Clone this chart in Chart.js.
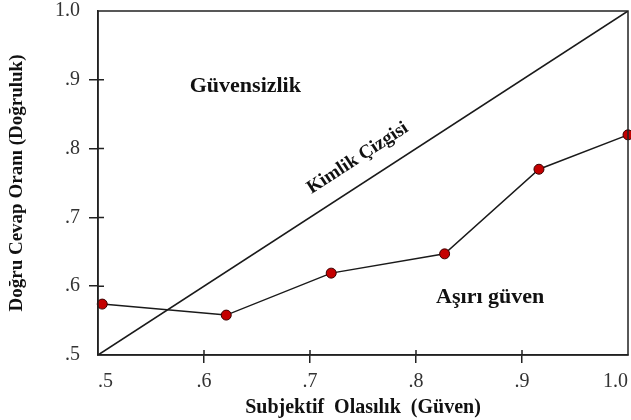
<!DOCTYPE html>
<html>
<head>
<meta charset="utf-8">
<script src="https://cdn.jsdelivr.net/npm/chart.js@4/dist/chart.umd.min.js"></script>
<style>
  html, body { margin: 0; padding: 0; background: #fff; }
  #wrap { width: 631px; height: 420px; }
</style>
</head>
<body>
<div id="wrap"><canvas id="myChart"></canvas></div>
<script>
// subjective probability (confidence) vs proportion correct
const confidence = [0.504, 0.621, 0.72, 0.827, 0.916, 1.0];
const accuracy = [0.574, 0.558, 0.619, 0.647, 0.770, 0.820];
const identityX = [0.5, 1.0];
const identityY = [0.5, 1.0];
const tickValues = [0.5, 0.6, 0.7, 0.8, 0.9, 1.0];
const tickLabels = ['.5', '.6', '.7', '.8', '.9', '1.0'];

const serif = "'Liberation Serif', 'DejaVu Serif', serif";

function isEnd(v) { return v === 0.5 || v === 1; }

// frame around the plot, inner tick stubs, text labels in data coords
const framePlugin = {
    id: 'frame',
    afterDatasetsDraw(chart) {
        const ctx = chart.ctx;
        const a = chart.chartArea;
        const xs = chart.scales.x, ys = chart.scales.y;
        ctx.save();
        ctx.strokeStyle = '#222';
        ctx.lineWidth = 1.5;
        ctx.strokeRect(a.left, a.top, a.right - a.left, a.bottom - a.top);

        ctx.beginPath();
        tickValues.filter(v => !isEnd(v)).forEach(v => {
            const px = xs.getPixelForValue(v);
            ctx.moveTo(px, a.bottom);
            ctx.lineTo(px, a.bottom - 5);
            const py = ys.getPixelForValue(v);
            ctx.moveTo(a.left, py);
            ctx.lineTo(a.left + 6, py);
        });
        ctx.stroke();

        ctx.fillStyle = '#111';
        ctx.textAlign = 'center';
        ctx.textBaseline = 'middle';
        ctx.font = 'bold 22px ' + serif;
        ctx.fillText('Güvensizlik', xs.getPixelForValue(0.639), ys.getPixelForValue(0.891));
        ctx.fillText('Aşırı güven', xs.getPixelForValue(0.870), ys.getPixelForValue(0.584));

        // label along identity line
        const x0 = xs.getPixelForValue(identityX[0]), y0 = ys.getPixelForValue(identityY[0]);
        const x1 = xs.getPixelForValue(identityX[1]), y1 = ys.getPixelForValue(identityY[1]);
        const ang = Math.atan2(y1 - y0, x1 - x0);
        ctx.translate(xs.getPixelForValue(0.745), ys.getPixelForValue(0.786));
        ctx.rotate(ang);
        ctx.font = 'bold 19px ' + serif;
        ctx.fillText('Kimlik Çizgisi', 0, 0);
        ctx.restore();
    }
};

new Chart(document.getElementById('myChart'), {
    type: 'scatter',
    data: {
        datasets: [{
            label: 'Kimlik Çizgisi',
            data: identityX.map((x, i) => ({ x: x, y: identityY[i] })),
            showLine: true,
            borderColor: '#1a1a1a',
            borderWidth: 1.6,
            pointRadius: 0,
            order: 2
        }, {
            label: 'Doğruluk',
            data: confidence.map((x, i) => ({ x: x, y: accuracy[i] })),
            showLine: true,
            borderColor: '#1a1a1a',
            borderWidth: 1.5,
            pointRadius: 5,
            pointBackgroundColor: '#c40000',
            pointBorderColor: '#3a0000',
            pointBorderWidth: 1,
            clip: false,
            order: 1
        }]
    },
    options: {
        responsive: true,
        maintainAspectRatio: false,
        animation: false,
        layout: { autoPadding: false, padding: { left: 0, right: 3, top: 11, bottom: 0 } },
        plugins: {
            legend: { display: false },
            tooltip: { enabled: false }
        },
        scales: {
            x: {
                type: 'linear',
                min: 0.5,
                max: 1.0,
                afterBuildTicks: s => { s.ticks = tickValues.map(v => ({ value: v })); },
                afterFit: s => { s.height = 65; s.paddingLeft = 0; s.paddingRight = 0; },
                grid: {
                    drawOnChartArea: false,
                    tickLength: 8,
                    lineWidth: 1.5,
                    color: ctx => (ctx.tick && isEnd(ctx.tick.value)) ? 'rgba(0,0,0,0)' : '#222'
                },
                border: { color: '#222', width: 1.5 },
                ticks: {
                    align: 'inner',
                    padding: 7,
                    color: '#333',
                    font: { family: serif, size: 20 },
                    callback: (v) => tickLabels[tickValues.indexOf(Math.round(v * 10) / 10)]
                },
                title: {
                    display: true,
                    text: 'Subjektif  Olasılık  (Güven)',
                    color: '#111',
                    font: { family: serif, size: 20, weight: 'bold' },
                    padding: { top: 0, bottom: 0 }
                }
            },
            y: {
                type: 'linear',
                min: 0.5,
                max: 1.0,
                afterBuildTicks: s => { s.ticks = tickValues.map(v => ({ value: v })); },
                afterFit: s => { s.width = 98; s.paddingTop = 0; s.paddingBottom = 0; },
                grid: {
                    drawOnChartArea: false,
                    tickLength: 9,
                    lineWidth: 1.5,
                    color: ctx => (ctx.tick && isEnd(ctx.tick.value)) ? 'rgba(0,0,0,0)' : '#222'
                },
                border: { color: '#222', width: 1.5 },
                ticks: {
                    padding: 9,
                    color: '#333',
                    font: { family: serif, size: 20 },
                    callback: (v) => tickLabels[tickValues.indexOf(Math.round(v * 10) / 10)]
                },
                title: {
                    display: true,
                    text: 'Doğru Cevap Oranı (Doğruluk)',
                    color: '#111',
                    font: { family: serif, size: 19, weight: 'bold' },
                    padding: { top: 6, bottom: 0 }
                }
            }
        }
    },
    plugins: [framePlugin]
});
</script>
</body>
</html>
